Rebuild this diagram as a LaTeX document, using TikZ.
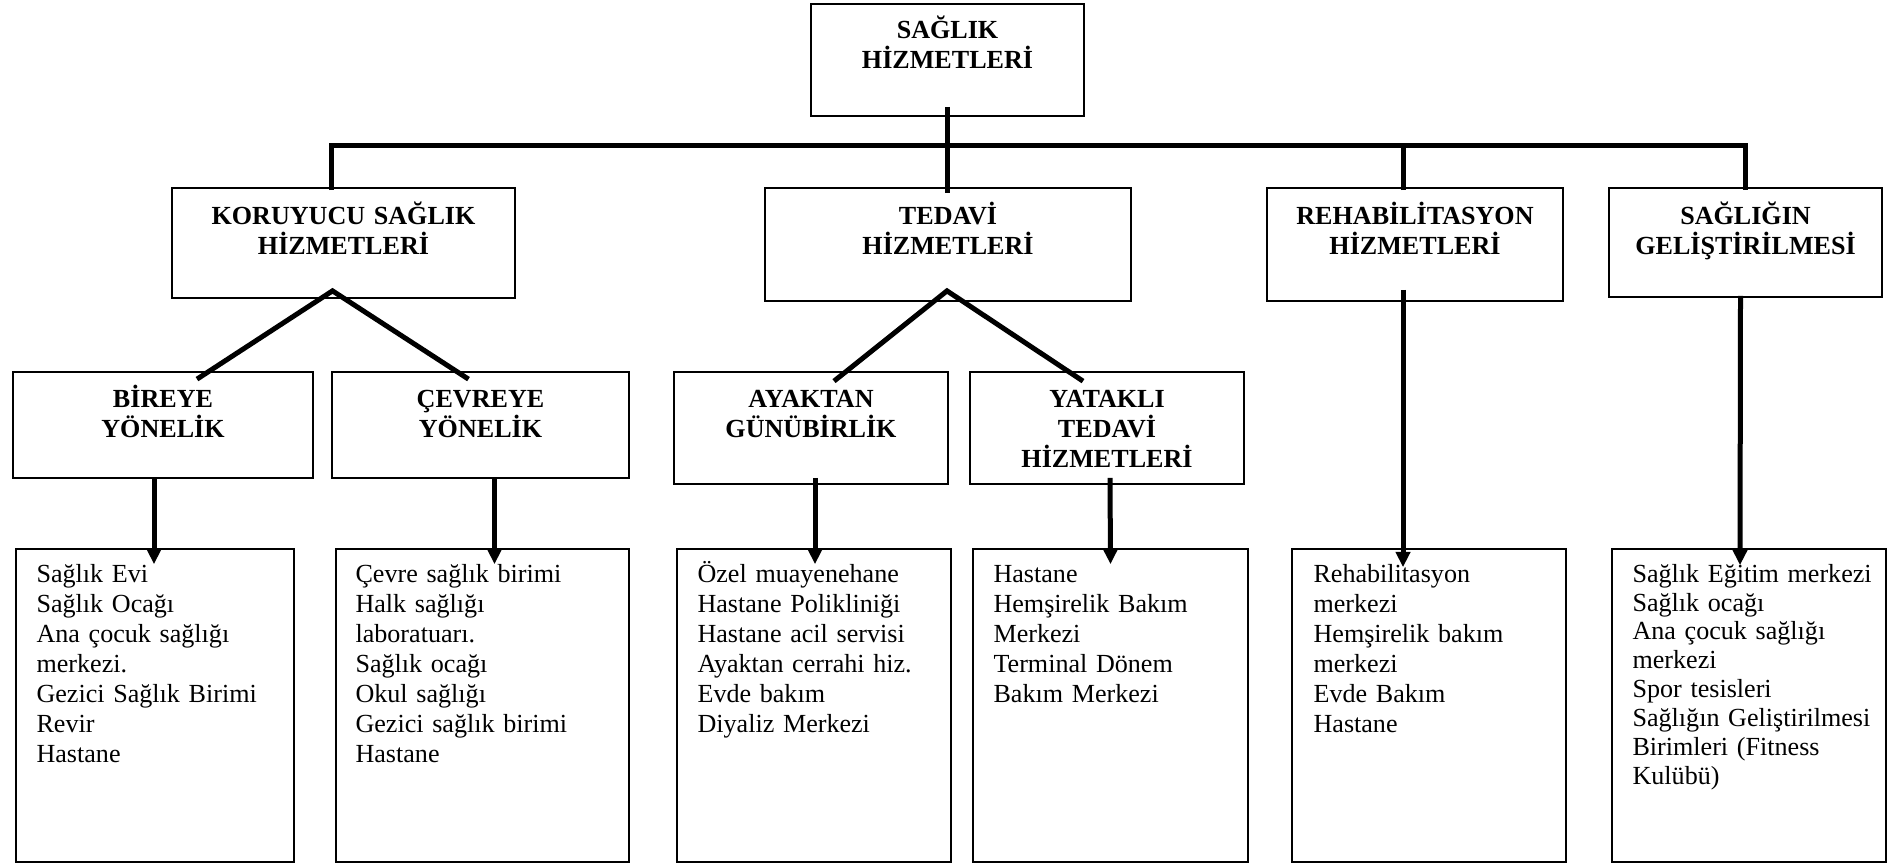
\documentclass[tikz,border=0pt]{standalone}
\usepackage{fontspec}
\setmainfont{Liberation Serif}
\usepackage{tikz}
\usetikzlibrary{arrows.meta,calc,fit}
\tikzset{>=latex,
    box/.style={draw, line width=0.8pt, inner sep=0pt},
    headtxt/.style={anchor=base, inner sep=0pt, text width=5.5cm, align=center,
        font=\bfseries\fontsize{12pt}{13.8pt}\selectfont},
    listtxt/.style={anchor=base west, inner sep=0pt, text width=5cm, align=left,
        font=\fontsize{12pt}{13.8pt}\selectfont},
    conn/.style={line width=2.3pt, line join=miter},
    arr/.style={line width=2.3pt, -{Triangle[length=7pt,width=6.5pt]}}}

\begin{document}
\begin{tikzpicture}[x=0.46pt, y=-0.46pt]
    \useasboundingbox (0,0) rectangle (1892,864);
    % boxes
    \node[box, fit={(811,4) (1084,116)}] (top) {};
    \node[box, fit={(172,188) (515,298)}] (kor) {};
    \node[box, fit={(765,188) (1131,301)}] (ted) {};
    \node[box, fit={(1267,188) (1563,301)}] (reh) {};
    \node[box, fit={(1609,188) (1882,297)}] (sag) {};
    \node[box, fit={(13,372) (313,478)}] (bir) {};
    \node[box, fit={(332,372) (629,478)}] (cev) {};
    \node[box, fit={(674,372) (948,484)}] (aya) {};
    \node[box, fit={(970,372) (1244,484)}] (yat) {};
    \node[box, fit={(16,549) (294,862)}] (lst1) {};
    \node[box, fit={(336,549) (629,862)}] (lst2) {};
    \node[box, fit={(677,549) (951,862)}] (lst3) {};
    \node[box, fit={(973,549) (1248,862)}] (lst4) {};
    \node[box, fit={(1292,549) (1566,862)}] (lst5) {};
    \node[box, fit={(1612,549) (1886,862)}] (lst6) {};

    % headings
    \node[headtxt] (topt) at ($(top.north)+(0,35)$) {SAĞLIK\\HİZMETLERİ};
    \node[headtxt] (kort) at ($(kor.north)+(0,37)$) {KORUYUCU SAĞLIK\\HİZMETLERİ};
    \node[headtxt] (tedt) at ($(ted.north)+(0,37)$) {TEDAVİ\\HİZMETLERİ};
    \node[headtxt] (reht) at ($(reh.north)+(0,37)$) {REHABİLİTASYON\\HİZMETLERİ};
    \node[headtxt] (sagt) at ($(sag.north)+(0,37)$) {SAĞLIĞIN\\GELİŞTİRİLMESİ};
    \node[headtxt] (birt) at ($(bir.north)+(0,36)$) {BİREYE\\YÖNELİK};
    \node[headtxt] (cevt) at ($(cev.north)+(0,36)$) {ÇEVREYE\\YÖNELİK};
    \node[headtxt] (ayat) at ($(aya.north)+(0,36)$) {AYAKTAN\\GÜNÜBİRLİK};
    \node[headtxt] (yatt) at ($(yat.north)+(0,36)$) {YATAKLI\\TEDAVİ\\HİZMETLERİ};

    % lists
    \node[listtxt] (l1t) at ($(lst1.north west)+(21,34)$)
        {Sağlık Evi\\Sağlık Ocağı\\Ana çocuk sağlığı\\merkezi.\\Gezici Sağlık Birimi\\Revir\\Hastane};
    \node[listtxt] (l2t) at ($(lst2.north west)+(20,34)$)
        {Çevre sağlık birimi\\Halk sağlığı\\laboratuarı.\\Sağlık ocağı\\Okul sağlığı\\Gezici sağlık birimi\\Hastane};
    \node[listtxt] (l3t) at ($(lst3.north west)+(21,34)$)
        {Özel muayenehane\\Hastane Polikliniği\\Hastane acil servisi\\Ayaktan cerrahi hiz.\\Evde bakım\\Diyaliz Merkezi};
    \node[listtxt] (l4t) at ($(lst4.north west)+(21,34)$)
        {Hastane\\Hemşirelik Bakım\\Merkezi\\Terminal Dönem\\Bakım Merkezi};
    \node[listtxt] (l5t) at ($(lst5.north west)+(22,34)$)
        {Rehabilitasyon\\merkezi\\Hemşirelik bakım\\merkezi\\Evde Bakım\\Hastane};
    \node[listtxt, font=\fontsize{12pt}{13.3pt}\selectfont] (l6t) at ($(lst6.north west)+(21,34)$)
        {Sağlık Eğitim merkezi\\Sağlık ocağı\\Ana çocuk sağlığı\\merkezi\\Spor tesisleri\\Sağlığın Geliştirilmesi\\Birimleri (Fitness\\Kulübü)};

    % tree lines
    \draw[conn] ($(top.south)+(0,-10)$) -- ($(top.south |- ted.north)+(0,6)$);
    \draw[conn] ($(kor.north west)+(160,3)$) |- ($(sag.north)+(0,-42)$) -- ($(sag.north)+(0,3)$);
    \draw[conn] ($(reh.north)+(-12,3)$) -- ++(0,-45);
    \draw[conn] ($(bir.north)+(34,8)$) -- ($(kor.south)+(-11,-8)$) -- ($(cev.north)+(-12,8)$);
    \draw[conn] ($(aya.north)+(23,10)$) -- ($(ted.south)+(-1,-11)$) -- ($(yat.north)+(-24,10)$);

    % arrows to the lists
    \draw[arr] ($(bir.south)+(-9,0)$) -- ($(lst1.north)+(-1,16)$);
    \draw[arr] ($(cev.south)+(14,0)$) -- ($(lst2.north)+(12,16)$);
    \draw[arr] ($(aya.south)+(4,-7)$) -- ($(lst3.north)+(1,16)$);
    \draw[arr] ($(yat.south)+(3,-7)$) -- ($(lst4.north)+(0,16)$);
    \draw[arr] ($(reh.south)+(-12,-12)$) -- ($(lst5.north)+(-26,19)$);
    \draw[arr] ($(sag.south)+(-5,-2)$) -- ($(lst6.north)+(-9,17)$);
\end{tikzpicture}
\end{document}
